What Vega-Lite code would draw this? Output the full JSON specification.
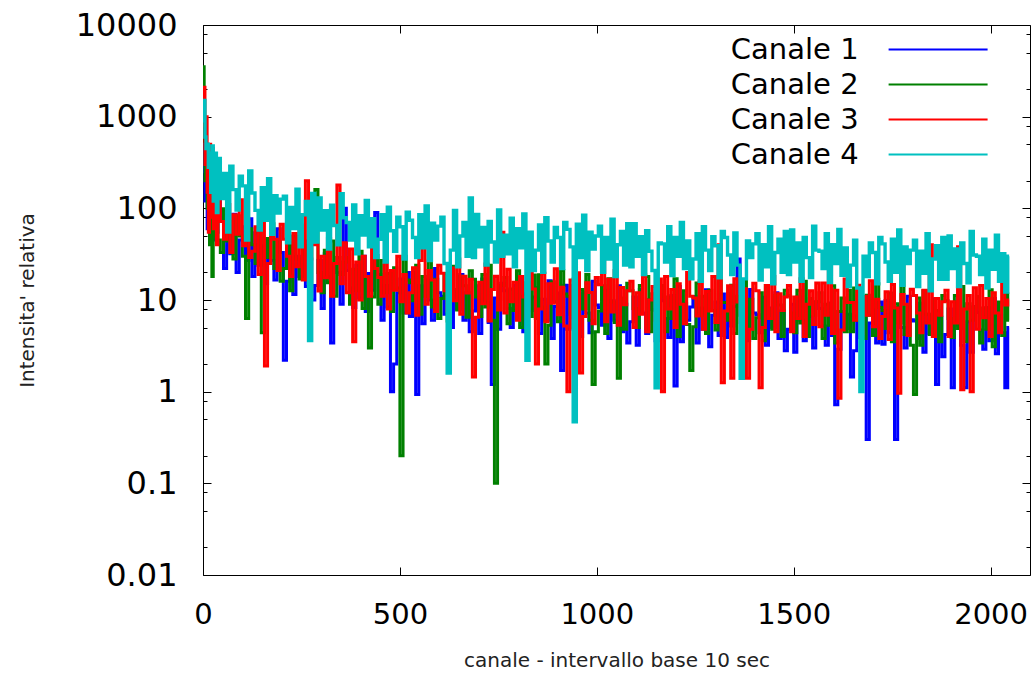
{
 "$schema": "https://vega.github.io/schema/vega-lite/v6.json",
 "width": 827,
 "height": 550,
 "autosize": {"type": "none"},
 "padding": {"left": 203, "top": 25, "right": 4, "bottom": 102},
 "background": "white",
 "config": {"view": {"stroke": "#000", "strokeWidth": 1}, "font": "DejaVu Sans"},
 "layer": [
  {
   "data": {"values": [
{"x":0,"c1":500,"c2":1800,"c3":900,"c4":900},
{"x":2,"c1":300,"c2":3500,"c3":1500,"c4":1200},
{"x":4,"c1":250,"c2":800,"c3":2100,"c4":1500},
{"x":6,"c1":120,"c2":200,"c3":300,"c4":600},
{"x":9,"c1":350,"c2":400,"c3":1000,"c4":450},
{"x":12,"c1":60,"c2":100,"c3":150,"c4":500},
{"x":15,"c1":200,"c2":300,"c3":55,"c4":280},
{"x":18,"c1":100,"c2":40,"c3":500,"c4":400},
{"x":21,"c1":42,"c2":250,"c3":80,"c4":150},
{"x":24,"c1":220,"c2":18,"c3":450,"c4":480},
{"x":28,"c1":45,"c2":200,"c3":60,"c4":120},
{"x":32,"c1":150,"c2":50,"c3":300,"c4":400},
{"x":36,"c1":55,"c2":150,"c3":40,"c4":90},
{"x":40,"c1":130,"c2":45,"c3":250,"c4":350},
{"x":48,"c1":72,"c2":33,"c3":72,"c4":128},
{"x":56,"c1":22,"c2":99,"c3":46,"c4":240},
{"x":64,"c1":54,"c2":44,"c3":110,"c4":55},
{"x":72,"c1":32,"c2":72,"c3":33,"c4":288},
{"x":80,"c1":86,"c2":28,"c3":85,"c4":160},
{"x":88,"c1":20,"c2":83,"c3":52,"c4":96},
{"x":96,"c1":45,"c2":50,"c3":124,"c4":224},
{"x":104,"c1":63,"c2":30,"c3":39,"c4":176},
{"x":112,"c1":27,"c2":6.3,"c3":78,"c4":45},
{"x":120,"c1":77,"c2":60,"c3":29,"c4":256},
{"x":128,"c1":18,"c2":40,"c3":34,"c4":147},
{"x":136,"c1":54,"c2":25,"c3":63,"c4":95},
{"x":144,"c1":24,"c2":61,"c3":19,"c4":58},
{"x":152,"c1":39,"c2":4.4,"c3":76,"c4":168},
{"x":160,"c1":15,"c2":47,"c3":1.9,"c4":74},
{"x":168,"c1":45,"c2":29,"c3":25,"c4":210},
{"x":176,"c1":27,"c2":68,"c3":59,"c4":52},
{"x":184,"c1":16.5,"c2":22,"c3":46,"c4":137},
{"x":192,"c1":60,"c2":43,"c3":21,"c4":89},
{"x":200,"c1":33,"c2":16,"c3":67,"c4":126},
{"x":208,"c1":2.2,"c2":22,"c3":46,"c4":136},
{"x":216,"c1":16,"c2":42,"c3":30,"c4":42},
{"x":224,"c1":39,"c2":12.6,"c3":18,"c4":102},
{"x":232,"c1":11.5,"c2":50,"c3":53,"c4":60},
{"x":240,"c1":30,"c2":28,"c3":23,"c4":162},
{"x":248,"c1":18,"c2":17,"c3":66,"c4":38},
{"x":256,"c1":44,"c2":39,"c3":16.5,"c4":85},
{"x":264,"c1":14,"c2":31,"c3":200,"c4":119},
{"x":272,"c1":28,"c2":14,"c3":28,"c4":3.6},
{"x":280,"c1":10,"c2":45,"c3":40,"c4":145},
{"x":288,"c1":14.4,"c2":160,"c3":40,"c4":43},
{"x":296,"c1":27,"c2":20,"c3":12.5,"c4":130},
{"x":304,"c1":8.1,"c2":12,"c3":30,"c4":58},
{"x":312,"c1":32,"c2":35,"c3":17.5,"c4":94},
{"x":320,"c1":18,"c2":15.4,"c3":47,"c4":36},
{"x":328,"c1":3.4,"c2":44,"c3":11,"c4":108},
{"x":336,"c1":25,"c2":11,"c3":25,"c4":65},
{"x":344,"c1":20,"c2":29,"c3":180,"c4":40},
{"x":352,"c1":9,"c2":19,"c3":15,"c4":144},
{"x":360,"c1":100,"c2":26,"c3":42,"c4":79},
{"x":368,"c1":21,"c2":29,"c3":12,"c4":70},
{"x":376,"c1":13.5,"c2":9,"c3":36,"c4":45},
{"x":384,"c1":8.3,"c2":21.6,"c3":3.5,"c4":109},
{"x":392,"c1":24,"c2":12.6,"c3":26,"c4":32},
{"x":400,"c1":10.5,"c2":34,"c3":10,"c4":83},
{"x":408,"c1":30,"c2":8.1,"c3":30,"c4":51},
{"x":416,"c1":7.5,"c2":18,"c3":18,"c4":122},
{"x":424,"c1":19.5,"c2":3,"c3":11,"c4":38},
{"x":432,"c1":12.8,"c2":10.8,"c3":40,"c4":77},
{"x":440,"c1":90,"c2":30.6,"c3":22,"c4":29},
{"x":448,"c1":19,"c2":9,"c3":17.6,"c4":46},
{"x":456,"c1":6,"c2":27,"c3":11,"c4":85},
{"x":464,"c1":14.4,"c2":12,"c3":27,"c4":26},
{"x":472,"c1":8.4,"c2":19.5,"c3":8,"c4":103},
{"x":480,"c1":1,"c2":7.5,"c3":21,"c4":57},
{"x":488,"c1":2,"c2":22.5,"c3":12.8,"c4":34},
{"x":496,"c1":12,"c2":13.5,"c3":30,"c4":80},
{"x":504,"c1":17,"c2":0.2,"c3":9.6,"c4":63},
{"x":512,"c1":7.2,"c2":30,"c3":19,"c4":28},
{"x":520,"c1":20,"c2":16.5,"c3":7.2,"c4":91},
{"x":528,"c1":6.6,"c2":15.4,"c3":12,"c4":74},
{"x":536,"c1":20,"c2":9.8,"c3":22.5,"c4":48},
{"x":544,"c1":0.93,"c2":24,"c3":6.8,"c4":29},
{"x":552,"c1":14.3,"c2":7,"c3":27,"c4":85},
{"x":560,"c1":5.5,"c2":18,"c3":60,"c4":37},
{"x":568,"c1":16.5,"c2":11,"c3":9,"c4":106},
{"x":576,"c1":10,"c2":26.6,"c3":21,"c4":27},
{"x":584,"c1":6,"c2":8.4,"c3":16.5,"c4":69},
{"x":592,"c1":22,"c2":16.8,"c3":7.5,"c4":45},
{"x":600,"c1":12,"c2":6.3,"c3":24,"c4":64},
{"x":608,"c1":11,"c2":10.4,"c3":19.6,"c4":80},
{"x":616,"c1":7,"c2":19.5,"c3":12.6,"c4":25},
{"x":624,"c1":17,"c2":5.9,"c3":7.7,"c4":1.6},
{"x":632,"c1":5,"c2":23.4,"c3":22.4,"c4":35},
{"x":640,"c1":13,"c2":13,"c3":9.8,"c4":95},
{"x":648,"c1":8,"c2":7.8,"c3":28,"c4":23},
{"x":656,"c1":19,"c2":18.2,"c3":7,"c4":50},
{"x":664,"c1":6,"c2":14.3,"c3":18.2,"c4":70},
{"x":672,"c1":12,"c2":6.5,"c3":11.9,"c4":30},
{"x":680,"c1":4.5,"c2":20.8,"c3":16.8,"c4":130},
{"x":688,"c1":7.6,"c2":16.8,"c3":1.45,"c4":29},
{"x":696,"c1":14.3,"c2":10.8,"c3":6.5,"c4":86},
{"x":704,"c1":4.3,"c2":6.6,"c3":15.6,"c4":38},
{"x":712,"c1":17,"c2":19,"c3":9.1,"c4":62},
{"x":720,"c1":9.5,"c2":8.4,"c3":24.7,"c4":24},
{"x":728,"c1":5.7,"c2":24,"c3":5.9,"c4":72},
{"x":736,"c1":1.2,"c2":6,"c3":13,"c4":43},
{"x":744,"c1":10.5,"c2":0.1,"c3":18.2,"c4":26},
{"x":752,"c1":4.8,"c2":10.2,"c3":7.8,"c4":96},
{"x":760,"c1":15.2,"c2":14.4,"c3":55,"c4":30},
{"x":768,"c1":12.6,"c2":17.6,"c3":7.2,"c4":51},
{"x":776,"c1":8.1,"c2":5.5,"c3":21.6,"c4":32},
{"x":784,"c1":5,"c2":13.2,"c3":9.6,"c4":78},
{"x":792,"c1":14.4,"c2":7.7,"c3":15.6,"c4":23},
{"x":800,"c1":6.3,"c2":20.9,"c3":6,"c4":60},
{"x":808,"c1":18,"c2":5,"c3":18,"c4":37},
{"x":816,"c1":4.5,"c2":11,"c3":10.8,"c4":87},
{"x":824,"c1":11.7,"c2":15.4,"c3":6.6,"c4":2.2},
{"x":832,"c1":7.7,"c2":6.6,"c3":24,"c4":55},
{"x":840,"c1":10.8,"c2":18.7,"c3":13.2,"c4":21},
{"x":848,"c1":13.6,"c2":6.3,"c3":2,"c4":35},
{"x":856,"c1":4.3,"c2":18.9,"c3":8,"c4":66},
{"x":864,"c1":10.2,"c2":8.4,"c3":19.6,"c4":20},
{"x":872,"c1":6,"c2":2,"c3":5.8,"c4":79},
{"x":880,"c1":16.2,"c2":5.3,"c3":15,"c4":44},
{"x":888,"c1":3.8,"c2":15.8,"c3":9.2,"c4":26},
{"x":896,"c1":8.5,"c2":9.5,"c3":21.9,"c4":62},
{"x":904,"c1":11.9,"c2":5.8,"c3":6.9,"c4":48},
{"x":912,"c1":1.7,"c2":21,"c3":13.8,"c4":22},
{"x":920,"c1":14.5,"c2":11.6,"c3":5.2,"c4":70},
{"x":928,"c1":4.8,"c2":11,"c3":1,"c4":59},
{"x":936,"c1":14.4,"c2":7,"c3":16.5,"c4":38},
{"x":944,"c1":6.4,"c2":17,"c3":5,"c4":0.47},
{"x":952,"c1":10.4,"c2":5,"c3":19.8,"c4":67},
{"x":960,"c1":4,"c2":13,"c3":1.6,"c4":29},
{"x":968,"c1":12,"c2":8,"c3":6.6,"c4":84},
{"x":976,"c1":7.2,"c2":19,"c3":15.4,"c4":21},
{"x":984,"c1":4.4,"c2":6,"c3":12.1,"c4":55},
{"x":992,"c1":16,"c2":1.2,"c3":5.5,"c4":36},
{"x":1000,"c1":8.8,"c2":4.5,"c3":17.6,"c4":50},
{"x":1008,"c1":8.3,"c2":7.6,"c3":14.7,"c4":64},
{"x":1016,"c1":5.3,"c2":14.3,"c3":45,"c4":20},
{"x":1024,"c1":12.8,"c2":4.3,"c3":5.8,"c4":48},
{"x":1032,"c1":3.8,"c2":17.1,"c3":16.8,"c4":28},
{"x":1040,"c1":9.8,"c2":9.5,"c3":7.4,"c4":76},
{"x":1048,"c1":6,"c2":5.7,"c3":21,"c4":18},
{"x":1056,"c1":14.3,"c2":1.4,"c3":5.3,"c4":40},
{"x":1064,"c1":4.5,"c2":10.5,"c3":13.7,"c4":56},
{"x":1072,"c1":9,"c2":4.8,"c3":8.9,"c4":24},
{"x":1080,"c1":3.4,"c2":15.2,"c3":12.6,"c4":68},
{"x":1088,"c1":5.8,"c2":12.6,"c3":16,"c4":23},
{"x":1096,"c1":10.8,"c2":8.1,"c3":5,"c4":68},
{"x":1104,"c1":3.2,"c2":5,"c3":12,"c4":30},
{"x":1112,"c1":13,"c2":14.4,"c3":7,"c4":49},
{"x":1120,"c1":7.2,"c2":35,"c3":19,"c4":19},
{"x":1128,"c1":4.3,"c2":18,"c3":4.5,"c4":57},
{"x":1136,"c1":10.1,"c2":4.5,"c3":10,"c4":34},
{"x":1144,"c1":7.9,"c2":11.7,"c3":14,"c4":21},
{"x":1152,"c1":3.6,"c2":7.7,"c3":6,"c4":1.1},
{"x":1160,"c1":11.5,"c2":10.8,"c3":17,"c4":42},
{"x":1168,"c1":9.8,"c2":14.4,"c3":1,"c4":41},
{"x":1176,"c1":6.3,"c2":4.5,"c3":18,"c4":26},
{"x":1184,"c1":3.9,"c2":10.8,"c3":8,"c4":63},
{"x":1192,"c1":11.2,"c2":6.3,"c3":13,"c4":18.5},
{"x":1200,"c1":1.15,"c2":17.1,"c3":5,"c4":48},
{"x":1208,"c1":14,"c2":4,"c3":15,"c4":30},
{"x":1216,"c1":3.5,"c2":9,"c3":9,"c4":70},
{"x":1224,"c1":9.1,"c2":12.6,"c3":5.5,"c4":22},
{"x":1232,"c1":6,"c2":5.4,"c3":20,"c4":44},
{"x":1240,"c1":8.4,"c2":1.7,"c3":11,"c4":17},
{"x":1248,"c1":10.9,"c2":5.1,"c3":10.5,"c4":28},
{"x":1256,"c1":3.4,"c2":15.3,"c3":6.7,"c4":53},
{"x":1264,"c1":8.2,"c2":6.8,"c3":16.2,"c4":16},
{"x":1272,"c1":4.8,"c2":11,"c3":4.8,"c4":63},
{"x":1280,"c1":12.9,"c2":4.3,"c3":12.4,"c4":35},
{"x":1288,"c1":3.1,"c2":12.8,"c3":7.6,"c4":21},
{"x":1296,"c1":6.8,"c2":7.7,"c3":18,"c4":49},
{"x":1304,"c1":9.5,"c2":4.7,"c3":5.7,"c4":39},
{"x":1312,"c1":4.1,"c2":17,"c3":40,"c4":17.5},
{"x":1320,"c1":11.6,"c2":9.4,"c3":1.25,"c4":56},
{"x":1328,"c1":3.9,"c2":9.4,"c3":7.6,"c4":48},
{"x":1336,"c1":11.7,"c2":6,"c3":14.3,"c4":31},
{"x":1344,"c1":5.2,"c2":14.5,"c3":1.4,"c4":19},
{"x":1352,"c1":8.5,"c2":4.3,"c3":17.1,"c4":54},
{"x":1360,"c1":28,"c2":11,"c3":9.5,"c4":24},
{"x":1368,"c1":9.8,"c2":6.8,"c3":5.7,"c4":1.4},
{"x":1376,"c1":5.9,"c2":16.2,"c3":13.3,"c4":17},
{"x":1384,"c1":3.6,"c2":5.1,"c3":1.4,"c4":44},
{"x":1392,"c1":13,"c2":10.2,"c3":4.8,"c4":29},
{"x":1400,"c1":7.2,"c2":3.8,"c3":15.2,"c4":41},
{"x":1408,"c1":6.9,"c2":6.4,"c3":12.6,"c4":53},
{"x":1416,"c1":4.4,"c2":12,"c3":1.1,"c4":16.5},
{"x":1424,"c1":10.7,"c2":3.6,"c3":5,"c4":40},
{"x":1432,"c1":3.2,"c2":14.4,"c3":14.4,"c4":23},
{"x":1440,"c1":8.2,"c2":8,"c3":6.3,"c4":63},
{"x":1448,"c1":5,"c2":4.8,"c3":18,"c4":15},
{"x":1456,"c1":12,"c2":11.2,"c3":4.5,"c4":33},
{"x":1464,"c1":3.8,"c2":8.8,"c3":11.7,"c4":46},
{"x":1472,"c1":7.6,"c2":4,"c3":7.7,"c4":20},
{"x":1480,"c1":2.8,"c2":12.8,"c3":10.8,"c4":56},
{"x":1488,"c1":4.8,"c2":11.2,"c3":14.4,"c4":19},
{"x":1496,"c1":9,"c2":7.2,"c3":4.5,"c4":58},
{"x":1504,"c1":2.7,"c2":4.4,"c3":10.8,"c4":26},
{"x":1512,"c1":10.8,"c2":12.8,"c3":6.3,"c4":42},
{"x":1520,"c1":6,"c2":5.6,"c3":17.1,"c4":16},
{"x":1528,"c1":3.6,"c2":16,"c3":4,"c4":48},
{"x":1536,"c1":8.4,"c2":4,"c3":9,"c4":29},
{"x":1544,"c1":6.6,"c2":10.4,"c3":12.6,"c4":17.6},
{"x":1552,"c1":3,"c2":6.8,"c3":5.4,"c4":64},
{"x":1560,"c1":9.6,"c2":9.6,"c3":15.3,"c4":35},
{"x":1568,"c1":8.1,"c2":12,"c3":5.1,"c4":34},
{"x":1576,"c1":5.2,"c2":3.8,"c3":15.3,"c4":22},
{"x":1584,"c1":3.2,"c2":9,"c3":6.8,"c4":53},
{"x":1592,"c1":9.3,"c2":5.3,"c3":35,"c4":15.5},
{"x":1600,"c1":4.1,"c2":14.3,"c3":4.3,"c4":40},
{"x":1608,"c1":0.72,"c2":3.4,"c3":12.8,"c4":25},
{"x":1616,"c1":2.9,"c2":7.5,"c3":0.85,"c4":59},
{"x":1624,"c1":7.5,"c2":10.5,"c3":4.7,"c4":18.6},
{"x":1632,"c1":4.9,"c2":4.5,"c3":17,"c4":37},
{"x":1640,"c1":7,"c2":12.8,"c3":9.4,"c4":14},
{"x":1648,"c1":1.45,"c2":4.5,"c3":9.4,"c4":24},
{"x":1656,"c1":2.8,"c2":13.5,"c3":6,"c4":45},
{"x":1664,"c1":6.7,"c2":6,"c3":14.5,"c4":13.5},
{"x":1672,"c1":3.9,"c2":9.8,"c3":4.3,"c4":1},
{"x":1680,"c1":10.6,"c2":3.8,"c3":11,"c4":30},
{"x":1688,"c1":0.3,"c2":11.3,"c3":6.8,"c4":18},
{"x":1696,"c1":5.6,"c2":6.8,"c3":16.2,"c4":42},
{"x":1704,"c1":7.8,"c2":4.1,"c3":5.1,"c4":33},
{"x":1712,"c1":3.4,"c2":15,"c3":10.2,"c4":15},
{"x":1720,"c1":9.5,"c2":8.3,"c3":3.8,"c4":48},
{"x":1728,"c1":3.3,"c2":7.7,"c3":6.6,"c4":41},
{"x":1736,"c1":9.9,"c2":4.9,"c3":12.3,"c4":26},
{"x":1744,"c1":4.4,"c2":11.9,"c3":3.7,"c4":16},
{"x":1752,"c1":7.2,"c2":3.5,"c3":14.8,"c4":46},
{"x":1760,"c1":0.3,"c2":9.1,"c3":8.2,"c4":20},
{"x":1768,"c1":8.3,"c2":5.6,"c3":0.96,"c4":58},
{"x":1776,"c1":5,"c2":33,"c3":11.5,"c4":14.5},
{"x":1784,"c1":3,"c2":4.2,"c3":9,"c4":38},
{"x":1792,"c1":11,"c2":8.4,"c3":4.1,"c4":25},
{"x":1800,"c1":6.1,"c2":3.2,"c3":13.1,"c4":35},
{"x":1808,"c1":5.9,"c2":0.93,"c3":11.2,"c4":45},
{"x":1816,"c1":3.8,"c2":10.5,"c3":7.2,"c4":14},
{"x":1824,"c1":9.2,"c2":3.2,"c3":4.4,"c4":34},
{"x":1832,"c1":2.7,"c2":12.6,"c3":12.8,"c4":19.6},
{"x":1840,"c1":7,"c2":7,"c3":5.6,"c4":53},
{"x":1848,"c1":4.3,"c2":4.2,"c3":40,"c4":12.6},
{"x":1856,"c1":10.3,"c2":9.8,"c3":4,"c4":28},
{"x":1864,"c1":1.2,"c2":7.7,"c3":10.4,"c4":39},
{"x":1872,"c1":6.5,"c2":3.5,"c3":6.8,"c4":16.8},
{"x":1880,"c1":2.4,"c2":11.2,"c3":9.6,"c4":48},
{"x":1888,"c1":4.2,"c2":9.8,"c3":12.8,"c4":16.8},
{"x":1896,"c1":8,"c2":6.3,"c3":4,"c4":50},
{"x":1904,"c1":1.1,"c2":3.9,"c3":9.6,"c4":22},
{"x":1912,"c1":9.5,"c2":11.2,"c3":5.6,"c4":36},
{"x":1920,"c1":5.3,"c2":4.9,"c3":38,"c4":14},
{"x":1928,"c1":3.2,"c2":14,"c3":1.05,"c4":42},
{"x":1936,"c1":1.1,"c2":3.5,"c3":8,"c4":25},
{"x":1944,"c1":5.8,"c2":9.1,"c3":11.2,"c4":15.4},
{"x":1952,"c1":2.7,"c2":6,"c3":1,"c4":56},
{"x":1960,"c1":8.5,"c2":8.4,"c3":13.6,"c4":31},
{"x":1968,"c1":7.3,"c2":10.9,"c3":4.8,"c4":30},
{"x":1976,"c1":4.7,"c2":3.4,"c3":14.4,"c4":19},
{"x":1984,"c1":2.9,"c2":8.2,"c3":6.4,"c4":46},
{"x":1992,"c1":8.3,"c2":4.8,"c3":10.4,"c4":13.5},
{"x":2000,"c1":3.6,"c2":12.9,"c3":4,"c4":35},
{"x":2008,"c1":10.4,"c2":3.1,"c3":12,"c4":21.6},
{"x":2016,"c1":2.6,"c2":6.8,"c3":7.2,"c4":51},
{"x":2024,"c1":6.8,"c2":9.5,"c3":4.4,"c4":16},
{"x":2032,"c1":4.4,"c2":4.1,"c3":16,"c4":32},
{"x":2040,"c1":1.1,"c2":11.6,"c3":8.8,"c4":12.2},
{"x":2047,"c1":5,"c2":6,"c3":10,"c4":30}
   ]},
   "transform": [{"fold": ["c1", "c2", "c3", "c4"], "as": ["ch", "v"]}],
   "encoding": {
    "x": {"field": "x", "type": "quantitative",
     "scale": {"domain": [0, 2100], "nice": false, "zero": false},
     "axis": {"orient": "bottom", "values": [0, 500, 1000, 1500, 2000], "format": "d", "tickSize": -8, "tickColor": "#000", "domain": false, "grid": false,
      "labelFontSize": 29, "labelColor": "#000", "labelPadding": 33, "labelFlush": false,
      "title": "canale - intervallo base 10 sec", "titleFontSize": 20, "titleFontWeight": "normal", "titleColor": "#222", "titlePadding": 21}},
    "y": {"field": "v", "type": "quantitative",
     "scale": {"type": "log", "domain": [0.01, 10000], "nice": false},
     "axis": {"orient": "left",
      "values": [0.01, 0.02, 0.05, 0.08, 0.1, 0.2, 0.5, 0.8, 1, 2, 5, 8, 10, 20, 50, 80, 100, 200, 500, 800, 1000, 2000, 5000, 8000, 10000],
      "tickSize": {"condition": {"test": "abs(log(datum.value)/LN10 - round(log(datum.value)/LN10)) < 0.001", "value": -8}, "value": -4},
      "tickColor": "#000", "domain": false, "grid": false,
      "labelExpr": "abs(log(datum.value)/LN10 - round(log(datum.value)/LN10)) < 0.001 ? format(datum.value, '~g') : ''",
      "labelFontSize": 32, "labelColor": "#000", "labelPadding": 34,
      "title": "Intensita' relativa", "titleFontSize": 20, "titleFontWeight": "normal", "titleColor": "#222", "titlePadding": 38}},
    "color": {"field": "ch", "type": "nominal",
     "scale": {"domain": ["c1", "c2", "c3", "c4"], "range": ["#0000ff", "#008000", "#ff0000", "#00c0c0"]},
     "legend": {"orient": "none", "legendX": 720.6, "legendY": 10, "title": null, "symbolType": "M-5,0H5", "symbolSize": 392, "symbolStrokeWidth": 2, "symbolFillColor": "transparent",
      "labelFontSize": 29, "labelColor": "#000", "labelAlign": "right", "labelOffset": -94, "labelLimit": 400,
      "rowPadding": 5, "padding": 0, "labelExpr": "'Canale ' + substring(datum.label, 1)"}}
   },
   "layer": [
    {"transform": [{"filter": "datum.ch != 'c4'"}],
     "mark": {"type": "line", "interpolate": "step", "strokeWidth": 3, "clip": true}},
    {"transform": [{"filter": "datum.ch == 'c4'"}],
     "mark": {"type": "line", "interpolate": "step", "strokeWidth": 3.4, "clip": true}}
   ]
  },
  {
   "data": {"values": [{"x": 0, "v": 1}]},
   "mark": {"type": "point", "opacity": 0},
   "encoding": {
    "x": {"field": "x", "type": "quantitative",
     "scale": {"domain": [0, 2100], "nice": false, "zero": false},
     "axis": {"orient": "top", "values": [0, 500, 1000, 1500, 2000], "tickSize": -8, "tickColor": "#000", "domain": false, "grid": false, "labels": false, "title": null}},
    "y": {"field": "v", "type": "quantitative",
     "scale": {"type": "log", "domain": [0.01, 10000], "nice": false},
     "axis": {"orient": "right",
      "values": [0.01, 0.02, 0.05, 0.08, 0.1, 0.2, 0.5, 0.8, 1, 2, 5, 8, 10, 20, 50, 80, 100, 200, 500, 800, 1000, 2000, 5000, 8000, 10000],
      "tickSize": {"condition": {"test": "abs(log(datum.value)/LN10 - round(log(datum.value)/LN10)) < 0.001", "value": -8}, "value": -4},
      "tickColor": "#000", "domain": false, "grid": false, "labels": false, "title": null}}
   }
  }
 ],
 "resolve": {"scale": {"x": "independent", "y": "independent"}}
}
